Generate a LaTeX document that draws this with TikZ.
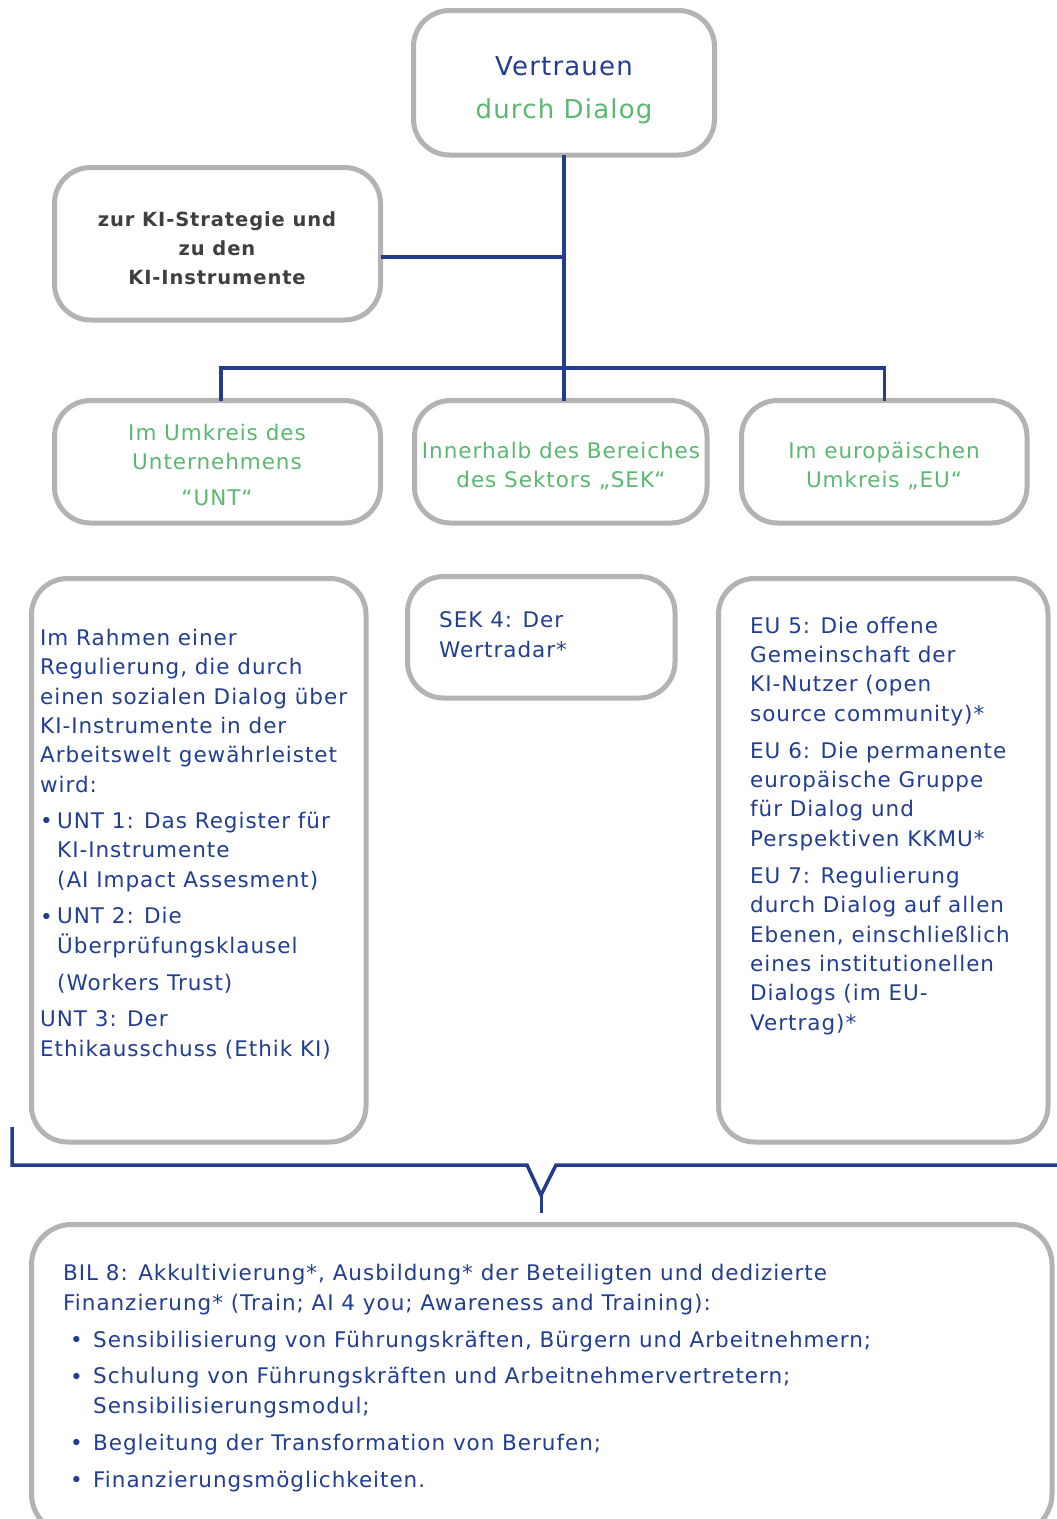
\documentclass[tikz,border=0pt]{standalone}
\usepackage{fontspec}
\setmainfont[LetterSpace=4.5]{DejaVu Sans}
\definecolor{lineblue}{HTML}{233C8E}
\definecolor{txtblue}{HTML}{223E92}
\definecolor{grn}{HTML}{5BB871}
\definecolor{boxgray}{HTML}{B3B3B3}
\definecolor{darktxt}{HTML}{3F3F3F}
\tikzset{
  box/.style={draw=boxgray, line width=5pt, rounded corners=36pt, fill=white, inner sep=0pt, outer sep=0pt},
  conn/.style={draw=lineblue, line width=3.5pt},
  body/.style={font=\fontsize{21.5}{29.3}\selectfont, text=txtblue, inner sep=0pt, align=left, anchor=base west},
  head/.style={font=\fontsize{21.5}{29}\selectfont, text=grn, inner sep=0pt, align=center, anchor=base},
}
\begin{document}
\begin{tikzpicture}[x=1pt,y=-1pt]
\useasboundingbox[fill=white] (0,0) rectangle (1057,1519);

% boxes
\node[box, minimum width=301pt, minimum height=144.5pt] (top) at (564,82.75) {};
\node[box, minimum width=326pt, minimum height=152.5pt] (strat) at (217.5,243.75) {};
\node[box, minimum width=326pt, minimum height=122.5pt] (unt) at (217.5,461.75) {};
\node[box, minimum width=292.5pt, minimum height=122.5pt] (sek) at (560.75,461.75) {};
\node[box, minimum width=285.5pt, minimum height=122.5pt] (eu) at (884.25,461.75) {};
\node[box, minimum width=334.5pt, minimum height=563.5pt] (untc) at (198.75,860.25) {};
\node[box, minimum width=267.5pt, minimum height=121.5pt] (sekc) at (541.25,637.25) {};
\node[box, minimum width=329.5pt, minimum height=563.5pt] (euc) at (883.25,860.25) {};
\node[box, minimum width=1020.5pt, minimum height=309.5pt, rounded corners=40pt] (bil) at (541.75,1379.25) {};

% connectors
\coordinate (bus) at (564,368);
\draw[conn] (top.south) -- (top.south |- sek.north);
\draw[conn] ([yshift=-13pt]strat.east) -- ([yshift=-13pt]strat.east -| top.south);
\draw[conn] ([xshift=3.5pt]unt.north) |- (bus) -| (eu.north);

\coordinate (bl) at (12,1127);
\coordinate (yl) at (527,1165);
\coordinate (yr) at (556,1165);
\coordinate (ytip) at (541,1195);
\coordinate (yend) at (541,1213);
\coordinate (br) at (1062,1165);
\draw[conn, line join=miter] (bl) |- (yl) -- (ytip) -- (yr) -- (br);
\draw[conn, line width=3pt] (ytip) -- (yend);

% title
\node[font=\fontsize{26}{40}\selectfont, text=txtblue, inner sep=0pt, anchor=base] (t1) at (564,75) {Vertrauen};
\node[font=\fontsize{26}{40}\selectfont, text=grn, inner sep=0pt, anchor=base] (t2) at (564,118) {durch Dialog};

% strategy box (anchor = baseline of last line)
\node[font=\bfseries\fontsize{19.5}{29}\selectfont, text=darktxt, align=center, anchor=base, inner sep=0pt] (st) at (217,284) {zur KI-Strategie und\\zu den\\KI-Instrumente};

% headers
\node[head] (h1) at (217,505) {Im Umkreis des\\Unternehmens\\[7pt]“UNT“};
\node[head] (h2) at (561,487) {Innerhalb des Bereiches\\des Sektors „SEK“};
\node[head] (h3) at (884,487) {Im europäischen\\Umkreis „EU“};

% UNT content
\node[body] (u0) at (40,792) {Im Rahmen einer\\Regulierung, die durch\\einen sozialen Dialog über\\KI-Instrumente in der\\Arbeitswelt gewährleistet\\wird:};
\node[body] (u1d) at (40,828) {•};
\node[body] (u1) at (57,887) {UNT 1: Das Register für\\KI-Instrumente\\(AI Impact Assesment)};
\node[body] (u2d) at (40,924) {•};
\node[body] (u2) at (57,990) {UNT 2: Die\\Überprüfungsklausel\\[7.5pt](Workers Trust)};
\node[body] (u3) at (40,1056) {UNT 3: Der\\Ethikausschuss (Ethik KI)};

% SEK content
\node[body] (s4) at (439,657) {SEK 4: Der\\Wertradar*};

% EU content
\node[body] (e5) at (750,721) {EU 5: Die offene\\Gemeinschaft der\\KI-Nutzer (open\\source community)*};
\node[body] (e6) at (750,846) {EU 6: Die permanente\\europäische Gruppe\\für Dialog und\\Perspektiven KKMU*};
\node[body] (e7) at (750,1030) {EU 7: Regulierung\\durch Dialog auf allen\\Ebenen, einschließlich\\eines institutionellen\\Dialogs (im EU-\\Vertrag)*};

% BIL content
\node[body] (b0) at (63,1310) {BIL 8: Akkultivierung*, Ausbildung* der Beteiligten und dedizierte\\Finanzierung* (Train; AI 4 you; Awareness and Training):};
\node[body] (b1d) at (70,1347) {•};
\node[body] (b1) at (93,1347) {Sensibilisierung von Führungskräften, Bürgern und Arbeitnehmern;};
\node[body] (b2d) at (70,1384) {•};
\node[body] (b2) at (93,1413) {Schulung von Führungskräften und Arbeitnehmervertretern;\\Sensibilisierungsmodul;};
\node[body] (b3d) at (70,1450) {•};
\node[body] (b3) at (93,1450) {Begleitung der Transformation von Berufen;};
\node[body] (b4d) at (70,1487) {•};
\node[body] (b4) at (93,1487) {Finanzierungsmöglichkeiten.};
\end{tikzpicture}
\end{document}
